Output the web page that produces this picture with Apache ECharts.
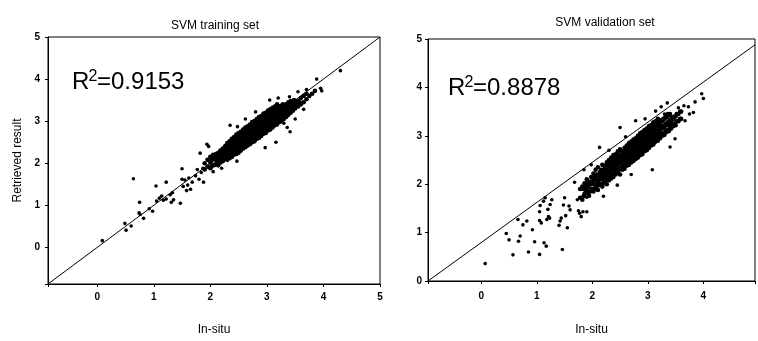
<!DOCTYPE html>
<html><head><meta charset="utf-8">
<script src="https://cdn.jsdelivr.net/npm/echarts@6/dist/echarts.min.js"></script>
<style>html,body{margin:0;padding:0;background:#fff}#c{width:758px;height:341px}</style>
</head><body><div id="c"></div>
<script>
// Panel titles and annotations
const titles = ['SVM training set', 'SVM validation set'];
const r2Values = ['0.9153', '0.8878'];
const xAxisName = 'In-situ';
const yAxisName = 'Retrieved result';

// Axis ranges
const trainRange = { xmin: -0.87, xmax: 5, ymin: -0.87, ymax: 5 };
const valRange = { xmin: -0.96, xmax: 4.93, ymin: 0, ymax: 5 };

// Reference lines
const trainLine = [[-0.87, -0.87], [5, 5]];
const valLine = [[-0.96, 0], [4.93, 4.88]];

// Training set: sparse outliers
const trainOutliers = [
  [0.09,0.16],[0.49,0.57],[0.51,0.41],[0.6,0.51],[0.64,1.63],[0.75,1.07],[0.74,0.82],[0.76,0.78],
  [0.82,0.69],[0.92,0.92],[0.98,0.86],[1.04,1.46],[1.05,1.1],[1.1,1.17],[1.14,1.22],[1.17,1.12],
  [1.22,1.15],[1.22,1.55],[1.29,1.25],[1.31,1.07],[1.35,1.13],[1.33,1.3],[1.47,1.05],[1.5,1.87],
  [1.5,1.62],[1.52,1.45],[1.55,1.6],[1.58,1.35],[1.6,1.48],[1.62,1.65],[1.65,1.38],[1.68,1.55],
  [1.74,1.7],[1.77,1.85],[1.8,1.62],[1.82,2.24],[1.84,1.78],[1.87,1.88],[1.88,1.55],[1.94,2.45],
  [1.97,2.4],[2.47,2.05],[2.97,2.37],[3.16,2.5],[3.41,2.75],[3.36,2.85],[3.65,3.28],[3.88,4.0],
  [3.97,3.72],[3.95,3.78],[4.3,4.2],[2.48,2.87],[2.35,2.9],[2.62,3.05],[2.8,3.22],[3.05,3.5],
  [3.2,3.55],[3.4,3.58],[3.55,3.7],[3.7,3.75],[3.5,3.05],[3.3,2.95],[2.2,1.88],[2.05,1.8]
];
// Training set: dense band
const trainCluster = [
  [1.9,1.85],[1.9,2.0],[1.95,1.92],[1.95,2.08],[2.0,1.88],[2.0,2.02],[2.0,2.15],[2.05,1.95],[2.05,2.1],[2.05,2.2],
  [2.1,1.98],[2.1,2.08],[2.1,2.22],[2.14,1.95],[2.14,2.1],[2.14,2.25],[2.18,2.02],[2.18,2.15],[2.18,2.3],
  [2.22,2.05],[2.22,2.2],[2.22,2.35],[2.26,2.1],[2.26,2.22],[2.26,2.4],
  [2.3,2.08],[2.3,2.2],[2.3,2.32],[2.3,2.48],[2.34,2.12],[2.34,2.25],[2.34,2.38],[2.34,2.52],
  [2.38,2.15],[2.38,2.3],[2.38,2.42],[2.38,2.58],[2.42,2.2],[2.42,2.35],[2.42,2.48],[2.42,2.62],
  [2.46,2.22],[2.46,2.38],[2.46,2.5],[2.46,2.68],[2.5,2.25],[2.5,2.4],[2.5,2.55],[2.5,2.72],
  [2.54,2.3],[2.54,2.45],[2.54,2.6],[2.54,2.75],[2.58,2.35],[2.58,2.5],[2.58,2.62],[2.58,2.8],
  [2.62,2.38],[2.62,2.52],[2.62,2.68],[2.62,2.85],[2.66,2.42],[2.66,2.58],[2.66,2.72],[2.66,2.88],
  [2.7,2.45],[2.7,2.6],[2.7,2.75],[2.7,2.92],[2.74,2.5],[2.74,2.65],[2.74,2.8],[2.74,2.98],
  [2.78,2.52],[2.78,2.68],[2.78,2.85],[2.78,3.0],[2.82,2.58],[2.82,2.72],[2.82,2.88],[2.82,3.05],
  [2.86,2.6],[2.86,2.75],[2.86,2.92],[2.86,3.1],[2.9,2.65],[2.9,2.8],[2.9,2.95],[2.9,3.12],
  [2.94,2.7],[2.94,2.85],[2.94,3.0],[2.94,3.18],[2.98,2.72],[2.98,2.88],[2.98,3.02],[2.98,3.2],
  [3.02,2.78],[3.02,2.92],[3.02,3.08],[3.02,3.25],[3.06,2.8],[3.06,2.95],[3.06,3.1],[3.06,3.28],
  [3.1,2.85],[3.1,3.0],[3.1,3.15],[3.1,3.32],[3.14,2.9],[3.14,3.05],[3.14,3.2],[3.14,3.35],
  [3.18,2.92],[3.18,3.08],[3.18,3.22],[3.18,3.4],[3.22,2.98],[3.22,3.12],[3.22,3.28],
  [3.26,3.0],[3.26,3.15],[3.26,3.3],[3.3,3.05],[3.3,3.2],[3.3,3.35],[3.34,3.1],[3.34,3.25],[3.34,3.4],
  [3.38,3.15],[3.38,3.28],[3.38,3.45],[3.42,3.2],[3.42,3.32],[3.42,3.48],[3.46,3.25],[3.46,3.38],
  [3.5,3.3],[3.5,3.42],[3.55,3.35],[3.55,3.48],[3.6,3.4],[3.6,3.55],[3.65,3.45],[3.65,3.6],
  [3.7,3.52],[3.7,3.65],[3.75,3.6],[3.8,3.65],[3.85,3.72]
];
const trainClusterFill = [
  [2.02,1.92],[2.02,2.06],[2.08,1.96],[2.08,2.12],[2.12,2.02],[2.12,2.16],[2.16,2.04],[2.16,2.2],
  [2.2,2.1],[2.2,2.26],[2.24,2.12],[2.24,2.28],[2.24,2.15],[2.28,2.14],[2.28,2.3],[2.28,2.42],
  [2.32,2.16],[2.32,2.3],[2.32,2.44],[2.36,2.2],[2.36,2.34],[2.36,2.48],[2.4,2.24],[2.4,2.38],[2.4,2.54],
  [2.44,2.28],[2.44,2.44],[2.44,2.58],[2.48,2.32],[2.48,2.46],[2.48,2.62],[2.52,2.36],[2.52,2.5],[2.52,2.66],
  [2.56,2.4],[2.56,2.55],[2.56,2.7],[2.6,2.44],[2.6,2.58],[2.6,2.74],[2.64,2.48],[2.64,2.64],[2.64,2.78],
  [2.68,2.52],[2.68,2.68],[2.68,2.82],[2.72,2.56],[2.72,2.72],[2.72,2.88],[2.76,2.6],[2.76,2.76],[2.76,2.92],
  [2.8,2.64],[2.8,2.8],[2.8,2.96],[2.84,2.68],[2.84,2.84],[2.84,3.0],[2.88,2.72],[2.88,2.88],[2.88,3.02],
  [2.92,2.76],[2.92,2.92],[2.92,3.06],[2.96,2.8],[2.96,2.95],[2.96,3.1],[3.0,2.84],[3.0,3.0],[3.0,3.14],
  [3.04,2.88],[3.04,3.04],[3.04,3.18],[3.08,2.92],[3.08,3.06],[3.08,3.22],[3.12,2.96],[3.12,3.1],[3.12,3.26],
  [3.16,3.0],[3.16,3.14],[3.16,3.3],[3.2,3.04],[3.2,3.18],[3.2,3.32],[3.24,3.06],[3.24,3.22],[3.24,3.36],
  [3.28,3.1],[3.28,3.26],[3.28,3.4],[3.32,3.16],[3.32,3.3],[3.36,3.2],[3.36,3.35],[3.4,3.25],[3.4,3.38],
  [3.44,3.3],[3.44,3.42],[3.48,3.35],[3.48,3.5],[3.52,3.4],[3.58,3.45]
];

// Validation set: sparse outliers
const valOutliers = [
  [0.07,0.36],[0.45,0.98],[0.5,0.85],[0.57,0.54],[0.66,1.27],[0.67,0.82],[0.7,0.93],[0.75,1.16],
  [0.82,1.24],[0.85,0.6],[0.92,1.06],[0.96,0.81],[1.05,1.43],[1.05,1.25],[1.06,1.56],[1.05,0.55],
  [1.08,1.2],[1.12,1.65],[1.13,0.79],[1.15,1.72],[1.17,0.72],[1.18,1.27],[1.21,1.33],[1.23,1.3],
  [1.2,1.48],[1.24,1.58],[1.27,1.68],[1.4,1.15],[1.42,1.24],[1.44,1.3],[1.46,0.65],[1.48,1.57],
  [1.5,1.72],[1.52,1.35],[1.55,1.1],[1.58,1.55],[1.6,1.47],[1.68,2.04],[1.73,1.68],[1.75,1.45],
  [1.77,1.4],[1.8,1.33],[1.83,1.43],[1.9,1.43],[1.9,1.73],[2.13,2.76],[2.5,3.17],[2.78,3.31],
  [3.14,3.51],[3.24,3.6],[3.35,3.68],[3.3,3.45],[3.73,3.6],[3.82,3.48],[3.97,3.87],[4.0,3.77],
  [3.67,3.31],[3.49,2.94],[3.4,2.77],[3.08,2.3],[3.65,3.62],[3.75,3.45],[3.85,3.7],[2.3,2.7],
  [2.6,2.98],[2.95,3.35],[2.2,1.75],[2.45,1.98],[2.7,2.2],[1.98,2.4],[1.85,2.3],[3.55,3.58]
];
// Validation set: dense band
const valCluster = [
  [1.78,1.72],[1.78,1.9],[1.82,1.95],[1.82,1.68],[1.86,1.8],[1.86,2.02],[1.9,1.88],[1.9,1.98],[1.9,2.1],
  [1.94,1.76],[1.94,2.05],[1.98,1.9],[1.98,2.15],[1.98,2.0],[2.02,1.85],[2.02,2.08],[2.02,2.22],
  [2.06,1.95],[2.06,2.12],[2.06,2.3],[2.1,1.88],[2.1,2.02],[2.1,2.18],[2.1,2.35],[2.14,2.0],[2.14,2.12],[2.14,2.25],
  [2.18,1.95],[2.18,2.1],[2.18,2.22],[2.18,2.4],[2.22,2.05],[2.22,2.18],[2.22,2.32],
  [2.26,2.0],[2.26,2.15],[2.26,2.28],[2.26,2.45],[2.3,2.08],[2.3,2.22],[2.3,2.35],[2.3,2.5],
  [2.34,2.12],[2.34,2.28],[2.34,2.4],[2.34,2.55],[2.38,2.15],[2.38,2.3],[2.38,2.45],[2.38,2.6],
  [2.42,2.2],[2.42,2.35],[2.42,2.5],[2.42,2.62],[2.46,2.25],[2.46,2.4],[2.46,2.52],[2.46,2.68],
  [2.5,2.2],[2.5,2.32],[2.5,2.45],[2.5,2.58],[2.5,2.72],[2.54,2.3],[2.54,2.42],[2.54,2.55],[2.54,2.68],
  [2.58,2.32],[2.58,2.48],[2.58,2.6],[2.58,2.75],[2.62,2.38],[2.62,2.52],[2.62,2.65],[2.62,2.8],
  [2.66,2.4],[2.66,2.55],[2.66,2.7],[2.66,2.85],[2.7,2.45],[2.7,2.58],[2.7,2.72],[2.7,2.88],
  [2.74,2.48],[2.74,2.62],[2.74,2.78],[2.74,2.92],[2.78,2.52],[2.78,2.68],[2.78,2.82],[2.78,2.95],
  [2.82,2.55],[2.82,2.7],[2.82,2.85],[2.82,3.0],[2.86,2.6],[2.86,2.75],[2.86,2.9],[2.86,3.05],
  [2.9,2.62],[2.9,2.78],[2.9,2.92],[2.9,3.08],[2.94,2.68],[2.94,2.82],[2.94,2.98],[2.94,3.12],
  [2.98,2.7],[2.98,2.85],[2.98,3.0],[2.98,3.15],[3.02,2.75],[3.02,2.9],[3.02,3.05],[3.02,3.2],
  [3.06,2.8],[3.06,2.95],[3.06,3.1],[3.06,3.22],[3.1,2.82],[3.1,2.98],[3.1,3.12],[3.1,3.28],
  [3.14,2.88],[3.14,3.02],[3.14,3.18],[3.14,3.3],[3.18,2.9],[3.18,3.05],[3.18,3.2],[3.18,3.35],
  [3.22,2.95],[3.22,3.1],[3.22,3.25],[3.26,3.0],[3.26,3.15],[3.26,3.3],[3.3,3.02],[3.3,3.18],[3.3,3.35],
  [3.34,3.08],[3.34,3.22],[3.34,3.38],[3.38,3.1],[3.38,3.25],[3.38,3.42],[3.42,3.15],[3.42,3.3],
  [3.46,3.2],[3.46,3.35],[3.5,3.22],[3.5,3.4],[3.55,3.3],[3.55,3.45],[3.6,3.35],[3.6,3.5]
];
const valClusterFill = [
  [1.84,1.75],[1.84,1.9],[1.88,1.82],[1.88,1.95],[1.92,1.82],[1.92,1.95],[1.92,2.05],[1.96,1.85],[1.96,2.0],
  [2.0,1.9],[2.0,2.02],[2.0,2.12],[2.04,1.9],[2.04,2.0],[2.04,2.15],[2.08,1.95],[2.08,2.08],[2.08,2.2],
  [2.12,1.98],[2.12,2.08],[2.12,2.2],[2.16,2.0],[2.16,2.15],[2.16,2.3],[2.2,2.02],[2.2,2.15],[2.2,2.28],
  [2.24,2.08],[2.24,2.22],[2.24,2.38],[2.28,2.12],[2.28,2.28],[2.28,2.4],[2.32,2.15],[2.32,2.3],[2.32,2.45],
  [2.36,2.2],[2.36,2.35],[2.36,2.5],[2.4,2.22],[2.4,2.38],[2.4,2.52],[2.44,2.28],[2.44,2.42],[2.44,2.58],
  [2.48,2.3],[2.48,2.45],[2.48,2.6],[2.52,2.35],[2.52,2.5],[2.52,2.62],[2.56,2.38],[2.56,2.52],[2.56,2.68],
  [2.6,2.42],[2.6,2.58],[2.6,2.72],[2.64,2.45],[2.64,2.6],[2.64,2.75],[2.68,2.5],[2.68,2.65],[2.68,2.78],
  [2.72,2.52],[2.72,2.68],[2.72,2.82],[2.76,2.58],[2.76,2.72],[2.76,2.88],[2.8,2.6],[2.8,2.75],[2.8,2.9],
  [2.84,2.65],[2.84,2.8],[2.84,2.95],[2.88,2.68],[2.88,2.82],[2.88,2.98],[2.92,2.72],[2.92,2.88],[2.92,3.02],
  [2.96,2.75],[2.96,2.9],[2.96,3.05],[3.0,2.8],[3.0,2.95],[3.0,3.1],[3.04,2.82],[3.04,2.98],[3.04,3.12],
  [3.08,2.88],[3.08,3.02],[3.08,3.18],[3.12,2.9],[3.12,3.05],[3.12,3.2],[3.16,2.95],[3.16,3.1],[3.16,3.25],
  [3.2,2.98],[3.2,3.12],[3.2,3.28],[3.24,3.02],[3.24,3.18],[3.24,3.32],[3.28,3.05],[3.28,3.2],[3.28,3.35],
  [3.32,3.1],[3.32,3.25],[3.32,3.4],[3.36,3.12],[3.36,3.28],[3.36,3.45],[3.4,3.18],[3.4,3.32],[3.4,3.45],
  [3.44,3.22],[3.44,3.38],[3.48,3.25],[3.48,3.4],[3.52,3.3],[3.52,3.45],[3.58,3.35],[3.58,3.5]
];

const FONT = 'Liberation Sans, Arial, sans-serif';
const chart = echarts.init(document.getElementById('c'), null, { renderer: 'canvas' });

function intLabel(v) {
  return Math.abs(v - Math.round(v)) < 1e-6 ? String(Math.round(v)) : '';
}
function xAxis(idx, r, gap, margin) {
  return {
    type: 'value', gridIndex: idx, min: r.xmin, max: r.xmax,
    name: xAxisName, nameLocation: 'middle', nameGap: gap,
    nameTextStyle: { fontFamily: FONT, fontSize: 12, color: '#000' },
    axisLine: { show: true, onZero: false, lineStyle: { color: '#000', width: 1 } },
    axisTick: { show: true, length: 3, inside: false, lineStyle: { color: '#000' } },
    axisLabel: { formatter: intLabel, fontFamily: FONT, fontSize: 10, fontWeight: 'bold', color: '#000', margin: margin, showMinLabel: true, showMaxLabel: true },
    splitLine: { show: false }
  };
}
function yAxis(idx, r, name, margin) {
  return {
    type: 'value', gridIndex: idx, min: r.ymin, max: r.ymax,
    name: name, nameLocation: 'middle', nameGap: 24,
    nameTextStyle: { fontFamily: FONT, fontSize: 12, color: '#000' },
    axisLine: { show: true, onZero: false, lineStyle: { color: '#000', width: 1 } },
    axisTick: { show: true, length: 3, inside: false, lineStyle: { color: '#000' } },
    axisLabel: { formatter: intLabel, fontFamily: FONT, fontSize: 10, fontWeight: 'bold', color: '#000', margin: margin },
    splitLine: { show: false }
  };
}
function scatter(idx, data, size) {
  return { type: 'scatter', xAxisIndex: idx, yAxisIndex: idx, data: data, symbol: 'circle', symbolSize: size,
    itemStyle: { color: '#000', opacity: 1 }, silent: true, animation: false };
}
function refLine(idx, data) {
  return { type: 'line', xAxisIndex: idx, yAxisIndex: idx, data: data, symbol: 'none',
    lineStyle: { color: '#000', width: 1 }, silent: true, animation: false, z: 1 };
}
function r2Text(x, y, val) {
  return [
    { type: 'text', left: x, top: y, style: { text: 'R', font: '24px ' + FONT, fill: '#000' } },
    { type: 'text', left: x + 16.5, top: y - 1, style: { text: '2', font: '16px ' + FONT, fill: '#000' } },
    { type: 'text', left: x + 25, top: y, style: { text: '=' + val, font: '24px ' + FONT, fill: '#000' } }
  ];
}

chart.setOption({
  animation: false,
  backgroundColor: '#fff',
  title: [
    { text: titles[0], left: 210, top: 15, textAlign: 'center', textStyle: { fontFamily: FONT, fontSize: 12, fontWeight: 'normal', color: '#000' } },
    { text: titles[1], left: 600, top: 12, textAlign: 'center', textStyle: { fontFamily: FONT, fontSize: 12, fontWeight: 'normal', color: '#000' } }
  ],
  grid: [
    { left: 48, top: 37, width: 332, height: 251, show: true, borderColor: '#000', borderWidth: 1, backgroundColor: 'transparent' },
    { left: 428, top: 39, width: 331, height: 255, show: true, borderColor: '#000', borderWidth: 1, backgroundColor: 'transparent' }
  ],
  xAxis: [xAxis(0, trainRange, 40, 8), xAxis(1, valRange, 43, 10)],
  yAxis: [yAxis(0, trainRange, yAxisName, 8), yAxis(1, valRange, '', 6)],
  series: [
    refLine(0, trainLine),
    scatter(0, trainCluster, 4.6),
    scatter(0, trainClusterFill, 4.6),
    scatter(0, trainOutliers, 3.6),
    refLine(1, valLine),
    scatter(1, valCluster, 4.6),
    scatter(1, valClusterFill, 4.6),
    scatter(1, valOutliers, 3.6)
  ],
  graphic: [].concat(r2Text(72, 70, r2Values[0]), r2Text(448, 76, r2Values[1]))
});
</script></body></html>
